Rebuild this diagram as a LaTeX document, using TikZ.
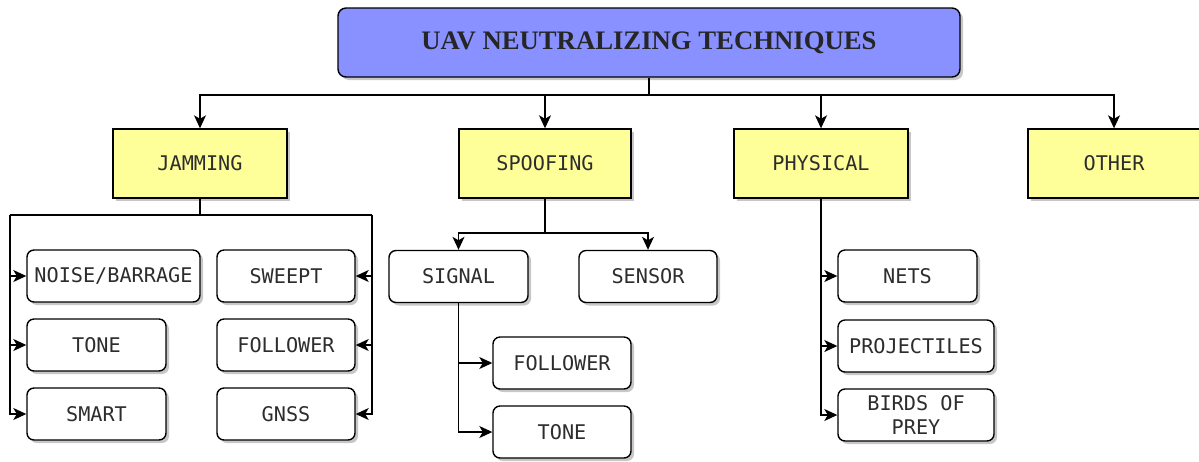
\documentclass[tikz,border=0pt]{standalone}
\usepackage{fontspec}
\setmonofont{DejaVu Sans Mono}
\newfontfamily\titlefont{Liberation Serif}
\usetikzlibrary{arrows.meta,shadows}
\definecolor{titleblue}{RGB}{136,145,255}
\definecolor{catyellow}{RGB}{255,255,153}
\definecolor{boxtext}{RGB}{45,45,45}

\begin{document}
\begin{tikzpicture}[x=0.02cm,y=-0.02cm]
	\tikzstyle{every node}+=[inner sep=0pt]
	\tikzstyle{boxsize}=[minimum width=#1*0.02cm]
	\tikzstyle{shade}=[drop shadow={shadow xshift=0.06cm, shadow yshift=-0.06cm, fill=black, opacity=0.22}]
	\tikzstyle{leaf}=[draw=black, line width=0.8pt, fill=white, rounded corners=0.14cm, minimum height=1.04cm, text=boxtext, font=\ttfamily\fontsize{11.5}{14}\selectfont, align=center, shade]
	\tikzstyle{cat}=[draw=black, line width=0.8pt, fill=catyellow, minimum height=1.38cm, text=boxtext, font=\ttfamily\fontsize{11.5}{14}\selectfont, shade]
	\tikzstyle{line}=[draw=black, line width=0.75pt]
	\tikzstyle{arr}=[line, -{Stealth[length=0.26cm, width=0.24cm, inset=0.07cm]}]
	\clip (0,0) rectangle (1199,461);
	\fill [white] (0,0) rectangle (1199,461);
	% top
	\node [draw=black, line width=0.8pt, fill=titleblue, rounded corners=0.16cm, shade, boxsize=622, minimum height=1.38cm, font=\titlefont\bfseries\fontsize{15.2}{17}\selectfont, text=black!85] (uav) at (649,42.5) {UAV NEUTRALIZING TECHNIQUES};
	\node [cat, boxsize=174] (jam) at (200,163.5) {JAMMING};
	\node [cat, boxsize=172] (spoof) at (545,163.5) {SPOOFING};
	\node [cat, boxsize=174] (phys) at (821,163.5) {PHYSICAL};
	\node [cat, boxsize=172] (other) at (1114,163.5) {OTHER};
	\coordinate (bus) at (649,95);
	\draw [line] (uav) -- (bus);
	\draw [arr] (bus) -| (jam);
	\draw [arr] (bus) -| (spoof);
	\draw [arr] (bus) -| (phys);
	\draw [arr] (bus) -| (other);
	% jamming
	\node [leaf, boxsize=173] (noise) at (113.5,276) {NOISE/BARRAGE};
	\node [leaf, boxsize=139] (jtone) at (96.5,345) {TONE};
	\node [leaf, boxsize=139] (smart) at (96.5,414) {SMART};
	\node [leaf, boxsize=138] (sweept) at (286,276) {SWEEPT};
	\node [leaf, boxsize=138] (jfollow) at (286,345) {FOLLOWER};
	\node [leaf, boxsize=138] (gnss) at (286,414) {GNSS};
	\coordinate (jbus) at (200,215);
	\coordinate (jleft) at (10,215);
	\coordinate (jright) at (372,215);
	\draw [line] (jam) -- (jbus);
	\draw [line] (jleft) -- (jright);
	\draw [arr] (jleft) |- (noise);
	\draw [arr] (jleft) |- (jtone);
	\draw [arr] (jleft) |- (smart);
	\draw [arr] (jright) |- (sweept);
	\draw [arr] (jright) |- (jfollow);
	\draw [arr] (jright) |- (gnss);
	% spoofing
	\node [leaf, boxsize=139] (signal) at (458.5,276.5) {SIGNAL};
	\node [leaf, boxsize=138] (sensor) at (648,276.5) {SENSOR};
	\node [leaf, boxsize=138] (sfollow) at (562,363) {FOLLOWER};
	\node [leaf, boxsize=138] (stone) at (562,432) {TONE};
	\coordinate (sbus) at (545,233);
	\draw [line] (spoof) -- (sbus);
	\draw [arr] (sbus) -| (signal);
	\draw [arr] (sbus) -| (sensor);
	\draw [arr] (signal) |- (sfollow);
	\draw [arr] (signal) |- (stone);
	% physical
	\node [leaf, boxsize=139] (nets) at (907.5,276) {NETS};
	\node [leaf, boxsize=156] (proj) at (916,346) {PROJECTILES};
	\node [leaf, boxsize=156] (birds) at (916,415) {BIRDS OF\\PREY};
	\draw [arr] (phys) |- (nets);
	\draw [arr] (phys) |- (proj);
	\draw [arr] (phys) |- (birds);
\end{tikzpicture}
\end{document}
